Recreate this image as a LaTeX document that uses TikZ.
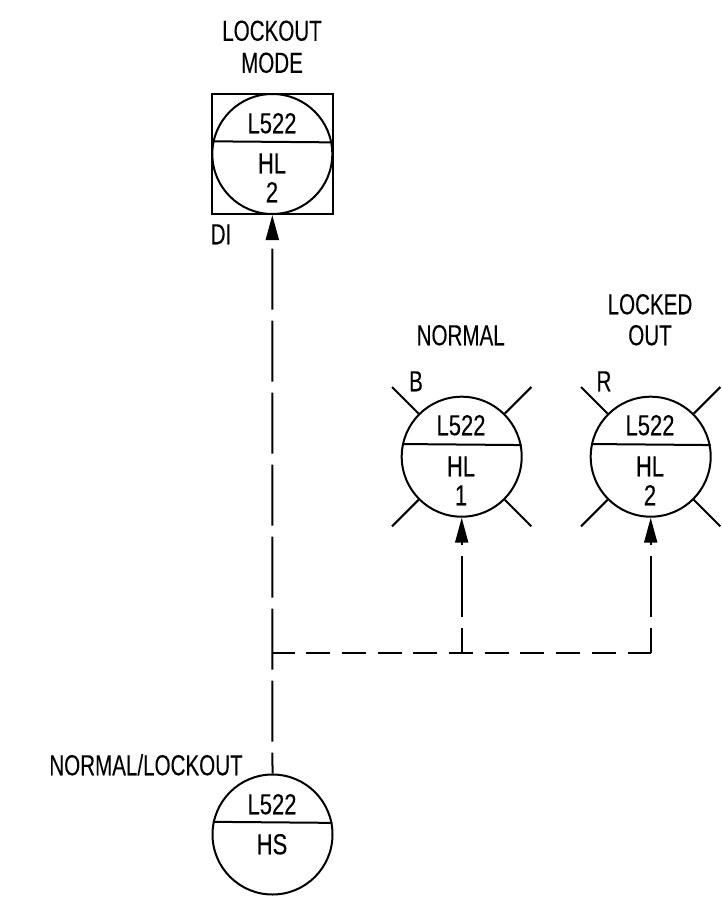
\documentclass[tikz,border=0pt]{standalone}
\usepackage{fontspec}
\setmainfont[FakeStretch=0.71,FakeBold=0.1]{Liberation Sans}
\newfontfamily\numfont[FakeStretch=0.76,FakeBold=0.1]{Liberation Sans}
\usetikzlibrary{arrows.meta}
\tikzset{
  bubble/.style={draw, circle, minimum size=120pt, inner sep=0pt, line width=2pt},
  tag/.style={inner sep=0pt, font=\fontsize{29}{31}\selectfont, text height=20.5pt, text depth=0pt},
  numtag/.style={tag, font=\fontsize{29}{31}\selectfont\numfont},
  signal/.style={line width=2pt, dash pattern=on 61pt off 11pt},
  tip/.style={-{Triangle[length=25pt, width=13pt]}}
}
\begin{document}
\begin{tikzpicture}[x=1pt, y=-1pt]
        \useasboundingbox (0,0) rectangle (721,900);

        % Lockout mode indicator
        \node[draw, rectangle, minimum size=120.5pt, inner sep=0pt, line width=2pt] (DIbox) at (272.3,154) {};
        \node[bubble] (LM) at (272.3,154) {};
        \node[tag] (LMtop) at (272,30.5) {LOCKOUT};
        \node[tag] (LMbot) at (272,62.5) {MODE};
        \node[numtag] (LMtag) at (272,123) {L522};
        \node[numtag] (LMhl) at (272,163) {HL};
        \node[numtag] (LMnum) at (272,192) {2};
        \node[tag] (DI) at (221,234) {DI};

        % Pilot lights
        \node[bubble] (HLB) at (461.7,456.7) {};
        \node[bubble] (HLR) at (650.7,456.7) {};
        \foreach \lamp in {HLB,HLR}
            \foreach \ang in {45,135,225,315}
                \draw[line width=2pt] (\lamp.\ang) -- ++(\ang:37.5pt);
        \node[tag] (Bname) at (460.7,335) {NORMAL};
        \node[tag] (Bcol) at (416,381) {B};
        \node[numtag] (Btag) at (461,425) {L522};
        \node[numtag] (Bhl) at (461,466) {HL};
        \node[numtag] (Bnum) at (461,495) {1};
        \node[tag] (Rtop) at (650,304) {LOCKED};
        \node[tag] (Rbot) at (650,335) {OUT};
        \node[tag] (Rcol) at (604,381) {R};
        \node[numtag] (Rtag) at (650,425) {L522};
        \node[numtag] (Rhl) at (650,466) {HL};
        \node[numtag] (Rnum) at (650,495) {2};

        % Hand switch
        \node[bubble] (HS) at (272.5,834.5) {};
        \node[tag] (HSname) at (146,765) {NORMAL/LOCKOUT};
        \node[numtag] (HStag) at (272,804) {L522};
        \node[numtag] (HShs) at (272,844) {HS};

        % Dividers
        \foreach \unit in {LM,HLB,HLR,HS}
            \draw[line width=2pt] (\unit.168.5) -- (\unit.11.5);

        % Signal lines
        \coordinate (tee) at (272.5,653);
        \coordinate (branch) at (461.7,653);
        \coordinate (corner) at (650.7,653);
        \draw[signal, tip, dash phase=40pt] (HS.north) -- (LM.south);
        \draw[line width=2pt, dash pattern=on 24pt off 11.7pt, dash phase=2pt] (tee) -- (corner);
        \draw[signal, tip, dash phase=36pt] (branch) -- (HLB.south);
        \draw[signal, tip, dash phase=36pt] (corner) -- (HLR.south);

    \end{tikzpicture}
\end{document}
